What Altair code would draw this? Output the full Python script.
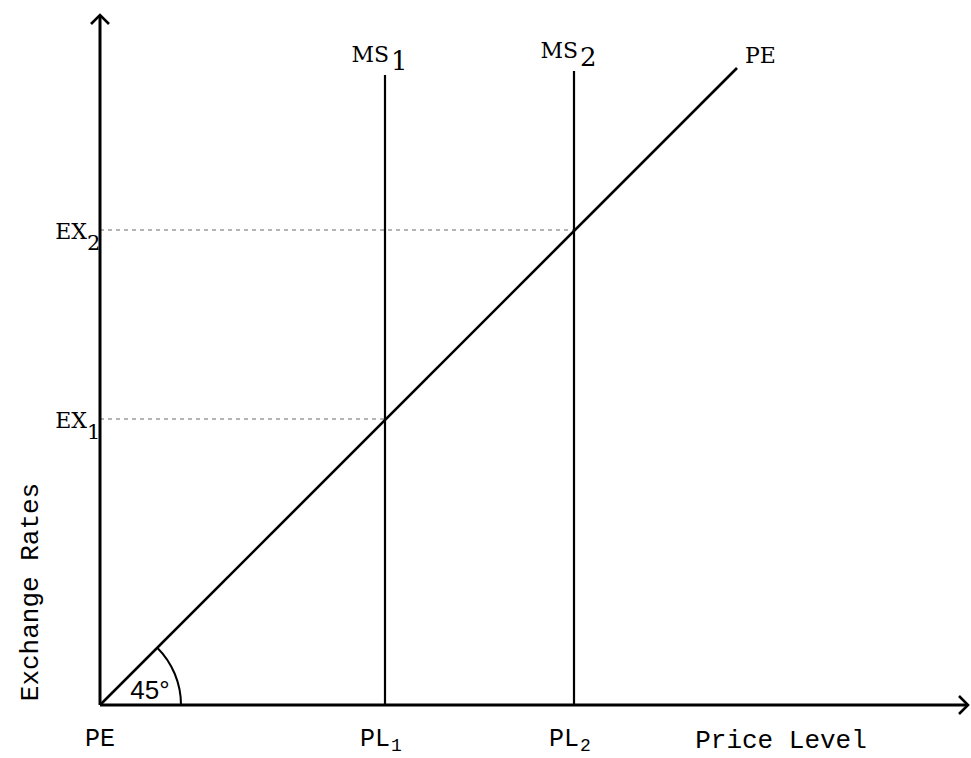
import math
import altair as alt
import pandas as pd

# ---------------- data (diagram units; origin = corner of the axes) ----------------
PL_VALUES = [2.85, 4.74]        # PL1, PL2 : price levels where MS1, MS2 stand
EX_VALUES = [2.86, 4.75]        # EX1, EX2 : exchange rates
MS_TOPS = [6.30, 6.34]          # heights reached by the MS1, MS2 lines
SUBSCRIPTS = ["1", "2"]
PE_END = 6.37                   # end of the 45-degree PE line
X_END = 8.68                    # length of the price-level axis
Y_END = 6.90                    # length of the exchange-rate axis
X_TITLE_AT = 6.81               # centre of "Price Level"
Y_TITLE_AT = 1.13               # centre of "Exchange Rates"
Y_TITLE_X = -0.70
ANGLE_LABEL = "45°"

XS = alt.Scale(domain=[0, 8.70], nice=False, zero=False)
YS = alt.Scale(domain=[0, 6.90], nice=False, zero=False)


def X(f="x"):
    return alt.X(f"{f}:Q", scale=XS, axis=None)


def Y(f="y"):
    return alt.Y(f"{f}:Q", scale=YS, axis=None)


SERIF = "DejaVu Serif"
MONO = "Liberation Mono"

ms_df = pd.DataFrame({"x": PL_VALUES, "y0": [0, 0], "y": MS_TOPS, "sub": SUBSCRIPTS,
                      "lab": ["MS", "MS"]})
ex_df = pd.DataFrame({"x0": [0, 0], "x": PL_VALUES, "y": EX_VALUES, "sub": SUBSCRIPTS,
                      "lab": ["EX", "EX"]})
pl_df = pd.DataFrame({"x": PL_VALUES, "y": [0, 0], "sub": SUBSCRIPTS, "lab": ["PL", "PL"]})
pe_df = pd.DataFrame({"x": [0, PE_END], "y": [0, PE_END]})
axes_df = pd.DataFrame({"x": [0, 0], "y": [0, 0], "x2": [X_END, 0], "y2": [0, Y_END]})
origin_df = pd.DataFrame({"x": [0], "y": [0], "lab": ["PE"], "ang": [ANGLE_LABEL]})
pe_top_df = pd.DataFrame({"x": [PE_END], "y": [PE_END], "lab": ["PE"]})
yarrow_df = pd.DataFrame({"x": [0], "y": [Y_END]})
xarrow_df = pd.DataFrame({"x": [X_END], "y": [0]})
xtitle_df = pd.DataFrame({"x": [X_TITLE_AT], "y": [0], "lab": ["Price Level"]})
ytitle_df = pd.DataFrame({"x": [Y_TITLE_X], "y": [Y_TITLE_AT], "lab": ["Exchange Rates"]})

dotted = alt.Chart(ex_df).mark_rule(color="#6a6a6a", strokeWidth=1.2, strokeDash=[4, 4]).encode(
    x=X("x0"), x2="x:Q", y=Y("y"))

ms_lines = alt.Chart(ms_df).mark_rule(color="black", strokeWidth=2.2).encode(
    x=X("x"), y=Y("y0"), y2="y:Q")

pe_line = alt.Chart(pe_df).mark_line(color="black", strokeWidth=2.6).encode(x=X("x"), y=Y("y"))

axes = alt.Chart(axes_df).mark_rule(color="black", strokeWidth=3).encode(
    x=X("x"), y=Y("y"), x2="x2:Q", y2="y2:Q")

arc = alt.Chart(origin_df).mark_arc(theta=math.pi / 4, theta2=math.pi / 2, radius=82,
                                    radius2=80, color="black").encode(x=X("x"), y=Y("y"))

yarrow = alt.Chart(yarrow_df).mark_point(shape="M-1,1L0,0L1,1", size=324, filled=False,
                                         stroke="black", strokeWidth=2.6, opacity=1).encode(
    x=X("x"), y=Y("y"))
xarrow = alt.Chart(xarrow_df).mark_point(shape="M-1,-1L0,0L-1,1", size=324, filled=False,
                                         stroke="black", strokeWidth=2.6, opacity=1).encode(
    x=X("x"), y=Y("y"))

ms_text = alt.Chart(ms_df).mark_text(font=SERIF, fontSize=22, align="right", baseline="alphabetic",
                                     dx=4, dy=-13, color="black").encode(x=X("x"), y=Y("y"), text="lab:N")
ms_sub = alt.Chart(ms_df).mark_text(font=SERIF, fontSize=26, align="left", baseline="alphabetic",
                                    dx=6, dy=-5, color="black").encode(x=X("x"), y=Y("y"), text="sub:N")

ex_text = alt.Chart(ex_df).mark_text(font=SERIF, fontSize=22, align="right", baseline="alphabetic",
                                     dx=-13, dy=9, color="black").encode(x=X("x0"), y=Y("y"), text="lab:N")
ex_sub = alt.Chart(ex_df).mark_text(font=SERIF, fontSize=21, align="left", baseline="alphabetic",
                                    dx=-13, dy=20, color="black").encode(x=X("x0"), y=Y("y"), text="sub:N")

pl_text = alt.Chart(pl_df).mark_text(font=MONO, fontSize=25, align="right", baseline="alphabetic",
                                     dx=5, dy=41, color="black").encode(x=X("x"), y=Y("y"), text="lab:N")
pl_sub = alt.Chart(pl_df).mark_text(font=MONO, fontSize=18, align="left", baseline="alphabetic",
                                    dx=6, dy=46, color="black").encode(x=X("x"), y=Y("y"), text="sub:N")

pe_bottom = alt.Chart(origin_df).mark_text(font=MONO, fontSize=25, align="center", baseline="alphabetic",
                                           dy=41, color="black").encode(x=X("x"), y=Y("y"), text="lab:N")
pe_top = alt.Chart(pe_top_df).mark_text(font=SERIF, fontSize=22, align="left", baseline="alphabetic",
                                        dx=8, dy=-5, color="black").encode(x=X("x"), y=Y("y"), text="lab:N")
angle_text = alt.Chart(origin_df).mark_text(font="Liberation Sans", fontSize=26, align="center",
                                            baseline="alphabetic", dx=50, dy=-6, color="black").encode(
    x=X("x"), y=Y("y"), text="ang:N")

xtitle = alt.Chart(xtitle_df).mark_text(font=MONO, fontSize=26, align="center", baseline="alphabetic",
                                        dy=43, color="black").encode(x=X("x"), y=Y("y"), text="lab:N")
ytitle = alt.Chart(ytitle_df).mark_text(font=MONO, fontSize=26, align="center", baseline="middle",
                                        angle=270, color="black").encode(x=X("x"), y=Y("y"), text="lab:N")

chart = alt.layer(
    dotted, ms_lines, pe_line, axes, arc, yarrow, xarrow,
    ms_text, ms_sub, ex_text, ex_sub, pl_text, pl_sub, pe_bottom, pe_top, angle_text,
    xtitle, ytitle,
).properties(
    width=870, height=690,
    padding={"left": 100, "top": 15, "right": 1, "bottom": 53},
    autosize=alt.AutoSizeParams(type="none"),
    background="white",
).configure_view(stroke=None)

chart.save("out.html", embed_options={"renderer": "svg", "actions": False})
